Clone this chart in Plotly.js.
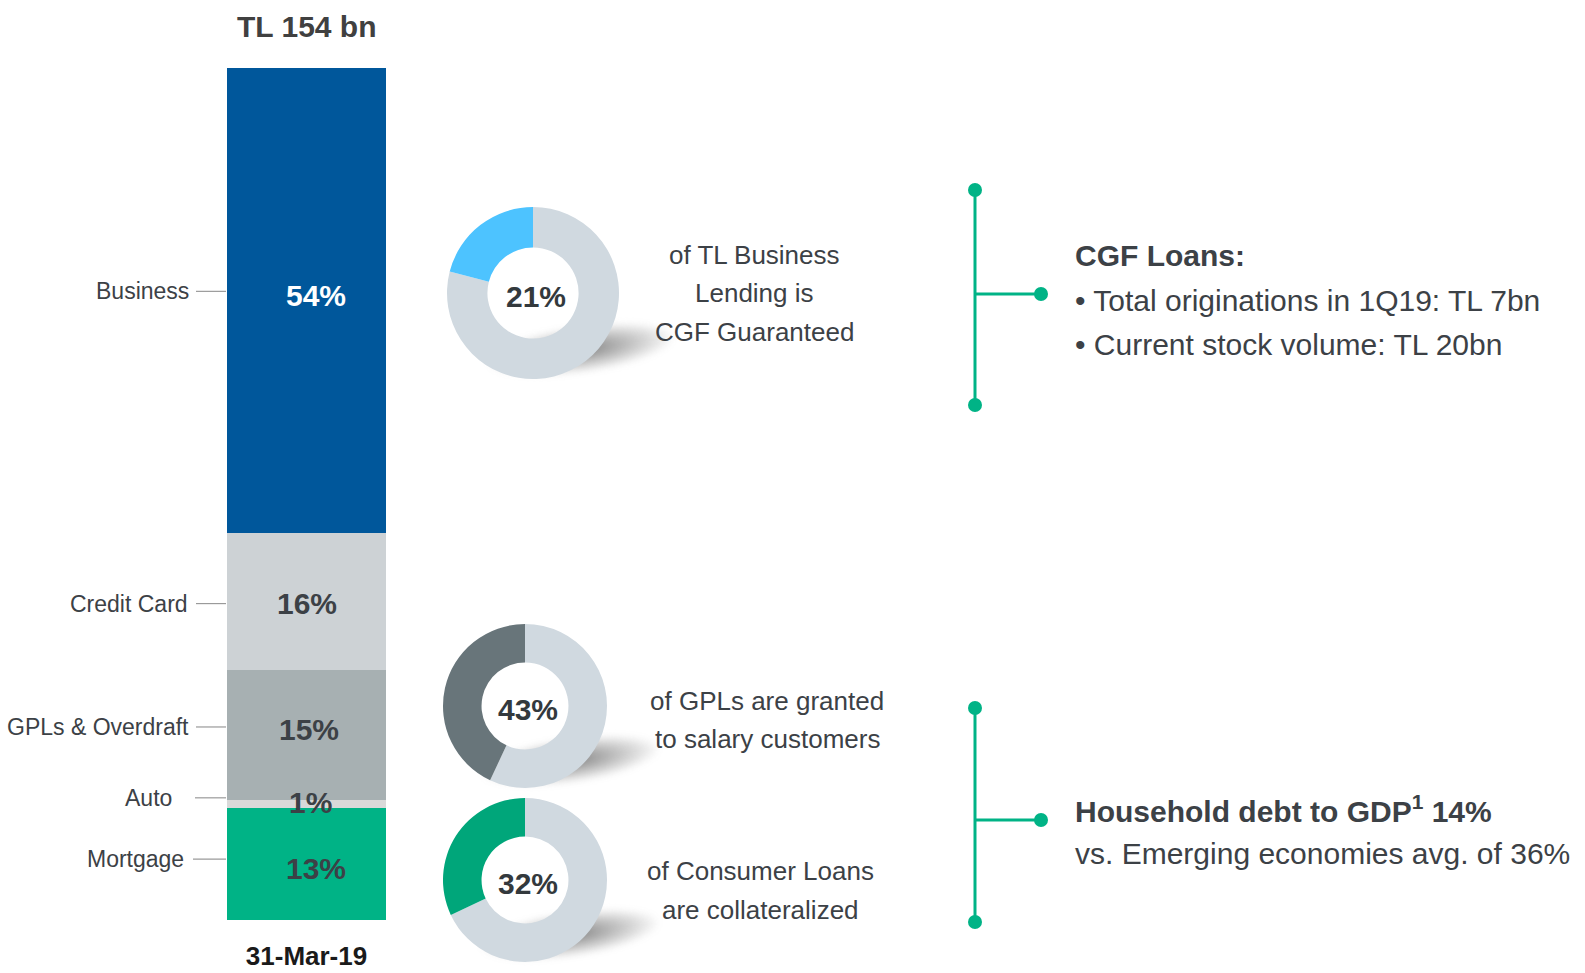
<!DOCTYPE html>
<html>
<head>
<meta charset="utf-8">
<script src="https://cdn.plot.ly/plotly-3.0.1.min.js"></script>
<style>
  html, body { margin: 0; padding: 0; background: #ffffff; }
  #wrap { position: relative; width: 1585px; height: 973px; overflow: hidden; }
  #chart { position: absolute; left: 0; top: 0; width: 1585px; height: 973px; z-index: 1; }
  .shadow { position: absolute; z-index: 0; border-radius: 50%;
    background: radial-gradient(ellipse at center, rgba(60,60,60,0.65) 0%, rgba(90,90,90,0.35) 40%, rgba(120,120,120,0) 72%);
    filter: blur(3px); }
</style>
</head>
<body>
<div id="wrap"><div id="chart"></div></div>
<script>
// ---------------- data ----------------
const categories = ['Mortgage', 'Auto', 'GPLs & Overdraft', 'Credit Card', 'Business'];
const shares = [13, 1, 15, 16, 54];
const periodLabel = ['31-Mar-19'];
const totalLabel = 'TL 154 bn';

const donutNames = ['CGF guaranteed', 'Salary customers', 'Collateralized'];
const donutShares = [21, 43, 32];
const donutCaptions = [
  ['of TL Business', 'Lending is', 'CGF Guaranteed'],
  ['of GPLs are granted', 'to salary customers'],
  ['of Consumer Loans', 'are collateralized']
];

const noteTitles = ['CGF Loans:', 'Household debt to GDP<sup>1</sup> 14%'];
const noteLines = [
  ['• Total originations in 1Q19: TL 7bn', '• Current stock volume: TL 20bn'],
  ['vs. Emerging economies avg. of 36%']
];

// ---------------- styles ----------------
const W = 1585, H = 973;
const px = x => x / W;
const py = y => 1 - y / H;
const FONT = '"Liberation Sans", Arial, sans-serif';
const TXT = '#3c4146';
const GREEN = '#00b386';
const barColors = ['#00b386', '#d9d9d9', '#a7b0b2', '#cdd2d5', '#00579b'];
const pctColors = ['#3c4146', '#3c4146', '#3c4146', '#3c4146', '#ffffff'];
const labelRight = [186, 174, 191, 190, 191];
const leaderStart = [193, 195, 196, 196, 196];
const labelShift = [5, 6, 8, -2, 9];     // px upward nudges of category labels
const pctShift = [-4, 1, 5, -2, 5];      // px upward nudges of % labels
const pctXShift = [9, 4, 2, 0, 9];
const barTop = 68, barBottom = 920;

const donutGeo = [ {cx: 533, cy: 293, r: 86}, {cx: 525, cy: 706, r: 82}, {cx: 525, cy: 880, r: 82} ];
const donutColors = ['#4dc3ff', '#68757a', '#00a67a'];
const donutRest = '#d0d9e0';
const captionX = [754, 767, 760];
const captionY = [[255, 293, 332], [701, 739], [871, 910]];

const brackets = [ {top: 190, bottom: 405, mid: 294}, {top: 708, bottom: 922, mid: 820} ];
const bracketX = 975, dotX = 1041;
const noteX = 1073;
const notePos = [ [255, 300, 345], [809, 853] ];

// ---------------- traces ----------------
const traces = [];
categories.forEach((c, i) => {
  traces.push({
    type: 'bar', name: c, x: periodLabel, y: [shares[i]],
    marker: { color: barColors[i], line: { width: 0 } },
    xaxis: 'x', yaxis: 'y', hoverinfo: 'skip', showlegend: false
  });
});

// remainder first, highlighted share second: going clockwise from 12 o'clock,
// the highlighted share then ends at 12 o'clock on the left-hand side
donutShares.forEach((v, i) => {
  const g = donutGeo[i];
  traces.push({
    type: 'pie', name: donutNames[i],
    values: [100 - v, v], labels: ['Other', donutNames[i]],
    hole: 0.53, sort: false, direction: 'clockwise', rotation: 0,
    marker: { colors: [donutRest, donutColors[i]], line: { width: 0 } },
    textinfo: 'none', hoverinfo: 'skip', showlegend: false,
    domain: { x: [px(g.cx - g.r), px(g.cx + g.r)], y: [py(g.cy + g.r), py(g.cy - g.r)] }
  });
});

// ---------------- annotations & shapes ----------------
const annotations = [];
const shapes = [];
const total = shares.reduce((a, b) => a + b, 0);
const pxPerUnit = (barBottom - barTop) / total;

annotations.push({
  xref: 'x', yref: 'paper', x: periodLabel[0], y: py(27), text: '<b>' + totalLabel + '</b>',
  showarrow: false, xanchor: 'center', yanchor: 'middle',
  font: { family: FONT, size: 30, color: '#404040' }
});

let cum = 0;
categories.forEach((c, i) => {
  const mid = cum + shares[i] / 2;
  cum += shares[i];
  const labelY = mid + labelShift[i] / pxPerUnit;
  annotations.push({
    xref: 'paper', yref: 'y', x: px(labelRight[i]), y: labelY, text: c,
    showarrow: false, xanchor: 'right', yanchor: 'middle',
    font: { family: FONT, size: 23, color: TXT }
  });
  annotations.push({
    xref: 'x', yref: 'y', x: periodLabel[0], y: mid, text: '<b>' + shares[i] + '%</b>',
    showarrow: false, xanchor: 'center', yanchor: 'middle', xshift: pctXShift[i], yshift: pctShift[i],
    font: { family: FONT, size: 30, color: pctColors[i] }
  });
  shapes.push({
    type: 'line', xref: 'paper', yref: 'y', x0: px(leaderStart[i]), x1: px(226), y0: labelY, y1: labelY,
    line: { color: '#9a9a9a', width: 1.2 }
  });
});

donutShares.forEach((v, i) => {
  const g = donutGeo[i];
  annotations.push({
    xref: 'paper', yref: 'paper', x: px(g.cx + 3), y: py(g.cy + 3), text: '<b>' + v + '%</b>',
    showarrow: false, xanchor: 'center', yanchor: 'middle',
    font: { family: FONT, size: 30, color: '#33393d' }
  });
  donutCaptions[i].forEach((t, j) => {
    annotations.push({
      xref: 'paper', yref: 'paper', x: px(captionX[i]), y: py(captionY[i][j]), text: t,
      showarrow: false, xanchor: 'center', yanchor: 'middle', align: 'center',
      font: { family: FONT, size: 26, color: TXT }
    });
  });
});

brackets.forEach((b, i) => {
  shapes.push({ type: 'line', xref: 'paper', yref: 'paper', x0: px(bracketX), x1: px(bracketX), y0: py(b.top), y1: py(b.bottom), line: { color: GREEN, width: 3 } });
  shapes.push({ type: 'line', xref: 'paper', yref: 'paper', x0: px(bracketX), x1: px(dotX), y0: py(b.mid), y1: py(b.mid), line: { color: GREEN, width: 3 } });
  [[bracketX, b.top], [bracketX, b.bottom], [dotX, b.mid]].forEach(p => {
    shapes.push({ type: 'circle', xref: 'paper', yref: 'paper',
      x0: px(p[0] - 7), x1: px(p[0] + 7), y0: py(p[1] + 7), y1: py(p[1] - 7),
      fillcolor: GREEN, line: { width: 0 } });
  });
  annotations.push({
    xref: 'paper', yref: 'paper', x: px(noteX), y: py(notePos[i][0]), text: '<b>' + noteTitles[i] + '</b>',
    showarrow: false, xanchor: 'left', yanchor: 'middle',
    font: { family: FONT, size: 30, color: TXT }
  });
  noteLines[i].forEach((t, j) => {
    annotations.push({
      xref: 'paper', yref: 'paper', x: px(noteX), y: py(notePos[i][j + 1]), text: t,
      showarrow: false, xanchor: 'left', yanchor: 'middle',
      font: { family: FONT, size: 30, color: TXT }
    });
  });
});

const layout = {
  width: W, height: H, margin: { l: 0, r: 0, t: 0, b: 0 },
  paper_bgcolor: 'rgba(0,0,0,0)', plot_bgcolor: 'rgba(0,0,0,0)',
  barmode: 'stack', bargap: 0, showlegend: false,
  xaxis: { domain: [px(227), px(386)], type: 'category', range: [-0.5, 0.5], autorange: false,
    showgrid: false, zeroline: false, showline: false,
    ticks: 'outside', ticklen: 13, tickcolor: 'rgba(0,0,0,0)', fixedrange: true,
    tickfont: { family: FONT, size: 26, color: '#1a1a1a', weight: 'bold' } },
  yaxis: { domain: [py(barBottom), py(barTop)], range: [0, total], autorange: false, showgrid: false, zeroline: false,
    showticklabels: false, showline: false, fixedrange: true },
  annotations: annotations, shapes: shapes
};

Plotly.newPlot('chart', traces, layout, { displayModeBar: false, staticPlot: true }).then(() => {
  // soft drop shadows under the donuts, placed from the donut geometry
  const wrap = document.getElementById('wrap');
  donutGeo.forEach(g => {
    const d = document.createElement('div');
    d.className = 'shadow';
    const w = 2.2 * g.r, h = 0.55 * g.r;
    const cx = g.cx + 0.55 * g.r, cy = g.cy + 0.66 * g.r;
    d.style.left = (cx - w / 2) + 'px';
    d.style.top = (cy - h / 2) + 'px';
    d.style.width = w + 'px';
    d.style.height = h + 'px';
    d.style.transform = 'rotate(-8deg)';
    wrap.insertBefore(d, wrap.firstChild);
  });
});
</script>
</body>
</html>
